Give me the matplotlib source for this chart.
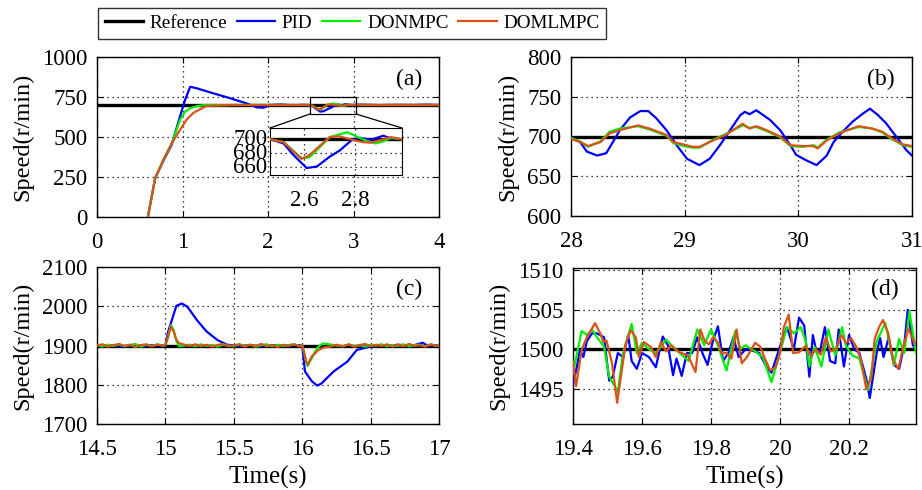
import matplotlib
matplotlib.use("Agg")
import matplotlib.pyplot as plt
from matplotlib.lines import Line2D
from matplotlib.patches import Rectangle

plt.rcParams['font.family'] = ['Liberation Serif', 'DejaVu Serif']

# ---------------- data ----------------
series_names = ['Reference', 'PID', 'DONMPC', 'DOMLMPC']
series_colors = ['#000000', '#0000FF', '#00EE00', '#D95319']

# (a) start-up, 0-4 s, reference 700
ref_a = 700
ta_pid = [0.595, 0.68, 0.775, 0.874, 0.97, 1.03, 1.09, 1.17, 1.36, 1.56, 1.75, 1.87, 1.95, 2.02, 2.15, 2.3, 2.40,
          2.467, 2.52, 2.56, 2.61, 2.65, 2.70, 2.74, 2.79, 2.82, 2.86, 2.91, 2.94, 2.98, 3.1, 3.3, 3.5, 3.7, 3.85, 4.0]
va_pid = [0, 242, 350, 452, 627, 731, 814, 804, 773, 742, 710, 685, 683, 700, 703, 698, 701,
          700, 694, 677, 659, 661, 675, 684, 700, 702, 699, 705, 701, 700, 702, 699, 701, 700, 702, 700]
ta_don = [0.595, 0.68, 0.775, 0.874, 0.97, 1.03, 1.09, 1.17, 1.28, 1.5, 1.8, 2.1, 2.3, 2.467, 2.52, 2.56, 2.59,
          2.62, 2.66, 2.70, 2.73, 2.77, 2.81, 2.85, 2.88, 2.91, 2.94, 2.98, 3.2, 3.5, 3.8, 4.0]
va_don = [0, 242, 356, 460, 606, 658, 680, 694, 700, 699, 701, 700, 700, 700, 696, 683, 673,
          674, 688, 703, 706, 710, 703, 697, 694, 697, 702, 700, 700, 700, 700, 700]
ta_dom = [0.595, 0.68, 0.775, 0.874, 0.97, 1.05, 1.13, 1.23, 1.28, 1.56, 1.8, 2.1, 2.3, 2.467, 2.52, 2.56, 2.59,
          2.62, 2.66, 2.70, 2.74, 2.79, 2.83, 2.86, 2.91, 2.94, 2.98, 3.2, 3.5, 3.8, 4.0]
va_dom = [0, 242, 356, 460, 544, 610, 652, 680, 694, 700, 699, 700, 700, 700, 696, 682, 672,
          677, 690, 703, 704, 699, 696, 695, 700, 703, 700, 700, 700, 700, 700]

# (b) steady state with periodic disturbance, 28-31 s, reference 700
ref_b = 700
tb_pid = [28.0, 28.08, 28.14, 28.23, 28.31, 28.36, 28.43, 28.52, 28.61, 28.68, 28.75, 28.84, 28.93, 29.02, 29.13,
          29.22, 29.31, 29.40, 29.49, 29.53, 29.57, 29.63, 29.68, 29.75, 29.84, 29.93, 29.98, 30.07, 30.16, 30.25,
          30.31, 30.39, 30.48, 30.57, 30.63, 30.70, 30.77, 30.86, 30.95, 31.0]
vb_pid = [699, 693, 681, 676, 679, 691, 708, 724, 732, 732, 723, 708, 689, 672, 664,
          672, 689, 708, 727, 731, 728, 733, 728, 721, 708, 689, 677, 670, 664, 676,
          693, 706, 719, 729, 735, 727, 717, 700, 683, 676]
tb_don = [28.0, 28.08, 28.15, 28.26, 28.34, 28.43, 28.59, 28.69, 28.84, 28.90, 28.99, 29.07, 29.13, 29.25, 29.36,
          29.51, 29.57, 29.63, 29.72, 29.84, 29.93, 30.04, 30.13, 30.17, 30.25, 30.36, 30.53, 30.65, 30.74, 30.83,
          30.92, 31.0]
vb_don = [698, 694, 687, 694, 706, 710, 713, 709, 701, 692, 688, 686, 686, 696, 703,
          714, 711, 712, 707, 699, 688, 687, 689, 686, 696, 705, 712, 710, 705, 696,
          689, 687]
tb_dom = [28.0, 28.08, 28.15, 28.26, 28.34, 28.43, 28.59, 28.69, 28.84, 28.90, 28.99, 29.07, 29.13, 29.25, 29.36,
          29.51, 29.57, 29.63, 29.72, 29.84, 29.93, 30.04, 30.13, 30.17, 30.25, 30.36, 30.53, 30.65, 30.74, 30.83,
          30.92, 31.0]
vb_dom = [697, 693, 688, 693, 704, 708, 714, 710, 702, 693, 690, 687, 687, 695, 702,
          716, 710, 713, 708, 700, 689, 688, 688, 685, 695, 704, 713, 710, 706, 697,
          690, 688]

# (c) load disturbance, 14.5-17 s, reference 1900
ref_c = 1900
tc_pid = [14.5, 14.55, 14.6, 14.65, 14.7, 14.75, 14.8, 14.85, 14.9, 14.95, 15.0, 15.02, 15.04, 15.08, 15.12, 15.16,
          15.23, 15.30, 15.38, 15.45, 15.5, 15.56, 15.62, 15.68, 15.74, 15.8, 15.86, 15.92, 15.97, 16.0, 16.02,
          16.07, 16.11, 16.14, 16.23, 16.33, 16.40, 16.45, 16.52, 16.58, 16.64, 16.7, 16.76, 16.82, 16.88, 16.92,
          16.96, 17.0]
vc_pid = [1900, 1899, 1901, 1900, 1898, 1901, 1900, 1899, 1901, 1900, 1900, 1935, 1957, 2001, 2007, 1999,
          1965, 1936, 1914, 1902, 1900, 1899, 1901, 1898, 1900, 1901, 1899, 1900, 1901, 1900, 1834,
          1809, 1798, 1803, 1834, 1859, 1889, 1893, 1900, 1901, 1899, 1902, 1900, 1901, 1907, 1899,
          1901, 1900]
tc_don = [14.5, 14.54, 14.58, 14.62, 14.66, 14.70, 14.74, 14.78, 14.82, 14.86, 14.90, 14.94, 14.98, 15.0, 15.02,
          15.04, 15.06, 15.08, 15.10, 15.14, 15.18, 15.22, 15.26, 15.30, 15.34, 15.38, 15.42, 15.46, 15.50, 15.54,
          15.58, 15.62, 15.66, 15.70, 15.74, 15.78, 15.82, 15.86, 15.90, 15.94, 15.98, 16.0, 16.01, 16.03, 16.04,
          16.07, 16.11, 16.15, 16.20, 16.25, 16.30, 16.34, 16.38, 16.42, 16.46, 16.50, 16.54, 16.58, 16.62,
          16.66, 16.70, 16.74, 16.78, 16.82, 16.86, 16.90, 16.94, 16.98, 17.0]
vc_don = [1901, 1898, 1902, 1899, 1903, 1898, 1901, 1904, 1897, 1902, 1899, 1903, 1900, 1901, 1920,
          1952, 1940, 1912, 1898, 1900, 1902, 1898, 1903, 1899, 1901, 1897, 1902, 1900, 1898, 1903,
          1899, 1902, 1897, 1901, 1903, 1898, 1902, 1899, 1901, 1903, 1899, 1900, 1888, 1855, 1848,
          1868, 1894, 1905, 1903, 1900, 1898, 1903, 1899, 1901, 1897, 1902, 1900, 1903, 1898,
          1901, 1899, 1903, 1898, 1901, 1902, 1898, 1903, 1899, 1900]
tc_dom = [14.5, 14.54, 14.58, 14.62, 14.66, 14.70, 14.74, 14.78, 14.82, 14.86, 14.90, 14.94, 14.98, 15.0, 15.02,
          15.04, 15.06, 15.08, 15.10, 15.14, 15.18, 15.22, 15.26, 15.30, 15.34, 15.38, 15.42, 15.46, 15.50, 15.54,
          15.58, 15.62, 15.66, 15.70, 15.74, 15.78, 15.82, 15.86, 15.90, 15.94, 15.98, 16.0, 16.01, 16.03, 16.04,
          16.07, 16.12, 16.16, 16.20, 16.25, 16.30, 16.34, 16.38, 16.42, 16.46, 16.50, 16.54, 16.58, 16.62,
          16.66, 16.70, 16.74, 16.78, 16.82, 16.86, 16.90, 16.94, 16.98, 17.0]
vc_dom = [1900, 1903, 1897, 1901, 1904, 1899, 1902, 1896, 1901, 1903, 1898, 1902, 1900, 1901, 1925,
          1948, 1936, 1915, 1906, 1902, 1899, 1903, 1898, 1902, 1897, 1901, 1904, 1898, 1900, 1903,
          1897, 1902, 1899, 1904, 1898, 1901, 1896, 1902, 1899, 1903, 1898, 1900, 1889, 1858, 1851,
          1872, 1889, 1895, 1897, 1902, 1898, 1903, 1897, 1901, 1904, 1898, 1902, 1899, 1903,
          1897, 1902, 1898, 1904, 1899, 1901, 1897, 1903, 1899, 1901]

# (d) steady state zoom, 19.4-20.39 s, reference 1500
ref_d = 1500
td_pid = [19.40, 19.41, 19.42, 19.43, 19.44, 19.455, 19.47, 19.49, 19.505, 19.515, 19.53, 19.545, 19.56, 19.57,
          19.585, 19.60, 19.62, 19.64, 19.66, 19.675, 19.69, 19.70, 19.715, 19.73, 19.745, 19.76, 19.775, 19.79,
          19.805, 19.82, 19.835, 19.85, 19.865, 19.88, 19.90, 19.92, 19.94, 19.96, 19.975, 19.99, 20.005, 20.02,
          20.04, 20.055, 20.07, 20.085, 20.095, 20.105, 20.115, 20.13, 20.145, 20.16, 20.17, 20.185, 20.20,
          20.215, 20.23, 20.25, 20.26, 20.28, 20.29, 20.30, 20.315, 20.33, 20.345, 20.36, 20.37, 20.385, 20.394]
vd_pid = [1495.5, 1497.5, 1499.9, 1499.0, 1501.0, 1502.0, 1502.0, 1501.5, 1496.0, 1496.5, 1499.5, 1499.0, 1501.8,
          1498.5, 1497.5, 1499.5, 1499.0, 1497.7, 1501.6, 1500.5, 1496.7, 1498.8, 1496.6, 1499.5, 1499.5, 1501.5,
          1499.5, 1498.0, 1501.0, 1502.9, 1498.5, 1499.5, 1501.5, 1499.0, 1500.0, 1499.8, 1499.5, 1497.8, 1497.0,
          1499.0, 1501.0, 1502.8, 1500.0, 1504.0, 1503.0, 1496.5, 1501.8, 1499.8, 1499.5, 1502.8, 1498.5, 1498.2,
          1502.5, 1497.8, 1501.8, 1500.0, 1499.5, 1496.2, 1493.8, 1499.5, 1501.4, 1499.0, 1501.5, 1498.0, 1497.5,
          1500.5, 1505.0, 1500.5, 1500.0]
td_don = [19.40, 19.425, 19.44, 19.455, 19.47, 19.49, 19.505, 19.53, 19.545, 19.57, 19.585, 19.60, 19.62, 19.64,
          19.67, 19.69, 19.71, 19.735, 19.76, 19.78, 19.80, 19.82, 19.845, 19.87, 19.885, 19.90, 19.925, 19.95,
          19.975, 20.0, 20.02, 20.04, 20.06, 20.075, 20.085, 20.10, 20.12, 20.14, 20.16, 20.18, 20.19, 20.21,
          20.23, 20.255, 20.28, 20.305, 20.33, 20.345, 20.36, 20.375, 20.394]
vd_don = [1497.0, 1502.3, 1501.8, 1502.5, 1501.5, 1500.3, 1496.5, 1494.6, 1499.5, 1503.2, 1499.5, 1500.8, 1500.0,
          1499.5, 1501.2, 1500.3, 1499.5, 1498.5, 1502.5, 1500.5, 1502.5, 1500.5, 1497.3, 1502.3, 1500.0, 1500.5,
          1499.8, 1499.0, 1495.8, 1499.6, 1502.8, 1502.0, 1502.8, 1501.0, 1497.8, 1500.3, 1497.8, 1502.5, 1499.2,
          1502.8, 1500.5, 1499.2, 1498.8, 1494.8, 1501.0, 1503.3, 1498.0, 1501.3, 1499.5, 1504.8, 1499.5]
td_dom = [19.40, 19.409, 19.425, 19.44, 19.464, 19.479, 19.488, 19.497, 19.513, 19.528, 19.543, 19.552, 19.567,
          19.582, 19.591, 19.605, 19.625, 19.64, 19.655, 19.67, 19.684, 19.704, 19.733, 19.755, 19.769, 19.781,
          19.794, 19.806, 19.821, 19.83, 19.845, 19.859, 19.874, 19.889, 19.904, 19.928, 19.943, 19.958, 19.972,
          19.987, 20.0, 20.011, 20.025, 20.038, 20.055, 20.074, 20.089, 20.104, 20.118, 20.133, 20.147, 20.162,
          20.177, 20.191, 20.206, 20.221, 20.235, 20.25, 20.265, 20.274, 20.287, 20.298, 20.313, 20.328, 20.343,
          20.357, 20.372, 20.387, 20.394]
vd_dom = [1498.4, 1495.3, 1499.9, 1501.5, 1503.3, 1502.0, 1500.9, 1501.1, 1498.2, 1493.2, 1497.8, 1500.6, 1502.4,
          1501.5, 1499.0, 1500.9, 1500.3, 1499.0, 1500.9, 1499.7, 1500.5, 1499.7, 1499.2, 1497.1, 1502.5, 1501.1,
          1500.6, 1501.5, 1500.8, 1499.5, 1499.5, 1498.8, 1502.5, 1498.2, 1499.0, 1500.8, 1500.3, 1498.6, 1497.3,
          1497.7, 1499.5, 1502.8, 1504.4, 1499.5, 1499.6, 1500.4, 1499.1, 1500.0, 1499.3, 1501.5, 1499.7, 1500.0,
          1501.8, 1500.8, 1501.4, 1500.3, 1498.6, 1494.9, 1496.5, 1501.3, 1502.8, 1503.7, 1502.1, 1498.6, 1497.5,
          1500.3, 1502.6, 1501.0, 1500.6]

# ---------------- figure ----------------
W, H = 922, 490
fig = plt.figure(figsize=(W / 100, H / 100), dpi=100)


def px_axes(l, t, r, b):
    return fig.add_axes([l / W, 1 - b / H, (r - l) / W, (b - t) / H])


axA = px_axes(97, 57, 439, 217)
axB = px_axes(571, 57, 912, 216)
axC = px_axes(97, 267, 439, 424)
axD = px_axes(573, 268, 916, 424)

LW_REF = 2.4
LW = 1.6
TICK_FS = 16.5
YLAB_FS = 17.5
XLAB_FS = 18
PANEL_FS = 17


def draw(ax, xlim, ref, data):
    ax.plot(xlim, [ref, ref], color=series_colors[0], lw=LW_REF, zorder=2)
    for (t, v), c in zip(data, series_colors[1:]):
        ax.plot(t, v, color=c, lw=LW, zorder=3)
    ax.set_xlim(*xlim)
    ax.grid(True, linestyle=(0, (1, 3)), color='black', linewidth=0.9)
    ax.tick_params(direction='in', labelsize=TICK_FS, length=4, top=True, right=True, width=0.8)
    ax.tick_params(axis='x', pad=11)
    ax.tick_params(axis='y', pad=7)
    for s in ax.spines.values():
        s.set_linewidth(1.0)
    ax.set_ylabel('Speed(r/min)', fontsize=YLAB_FS, labelpad=6)


draw(axA, (0, 4), ref_a, [(ta_pid, va_pid), (ta_don, va_don), (ta_dom, va_dom)])
axA.set_ylim(0, 1000)
axA.set_yticks([0, 250, 500, 750, 1000])
axA.set_xticks([0, 1, 2, 3, 4])

draw(axB, (28, 31), ref_b, [(tb_pid, vb_pid), (tb_don, vb_don), (tb_dom, vb_dom)])
axB.set_ylim(600, 800)
axB.set_yticks([600, 650, 700, 750, 800])
axB.set_xticks([28, 29, 30, 31])

draw(axC, (14.5, 17), ref_c, [(tc_pid, vc_pid), (tc_don, vc_don), (tc_dom, vc_dom)])
axC.set_ylim(1700, 2100)
axC.set_yticks([1700, 1800, 1900, 2000, 2100])
axC.set_xticks([14.5, 15, 15.5, 16, 16.5, 17])
axC.set_xticklabels(['14.5', '15', '15.5', '16', '16.5', '17'])
axC.set_xlabel('Time(s)', fontsize=XLAB_FS, labelpad=4)

draw(axD, (19.4, 20.394), ref_d, [(td_pid, vd_pid), (td_don, vd_don), (td_dom, vd_dom)])
axD.set_ylim(1490.5, 1510.3)
axD.set_yticks([1495, 1500, 1505, 1510])
axD.set_xticks([19.4, 19.6, 19.8, 20.0, 20.2])
axD.set_xticklabels(['19.4', '19.6', '19.8', '20', '20.2'])
axD.set_xlabel('Time(s)', fontsize=XLAB_FS, labelpad=4)

for ax, lab in zip([axA, axB, axC, axD], ['(a)', '(b)', '(c)', '(d)']):
    ax.text(0.95, 0.86, lab, transform=ax.transAxes, ha='right', va='center', fontsize=PANEL_FS)

# inset of (a)
rx0, rx1, ry0, ry1 = 2.49, 3.03, 645, 750
axA.add_patch(Rectangle((rx0, ry0), rx1 - rx0, ry1 - ry0, fill=False, edgecolor='black', lw=0.9, zorder=5))
axI = px_axes(270, 128, 402, 175)
axI.plot([2.4, 3.1], [ref_a, ref_a], color=series_colors[0], lw=LW_REF, zorder=2)
for (t, v), c in zip([(ta_pid, va_pid), (ta_don, va_don), (ta_dom, va_dom)], series_colors[1:]):
    axI.plot(t, v, color=c, lw=LW, zorder=3)
axI.set_xlim(2.467, 2.983)
axI.set_ylim(649, 716)
axI.set_xticks([2.6, 2.8])
axI.set_yticks([660, 680, 700])
axI.grid(True, linestyle=(0, (1, 3)), color='black', linewidth=0.9)
axI.tick_params(direction='in', labelsize=TICK_FS, length=0, pad=2)
axI.tick_params(axis='x', pad=11)
for lab in axI.get_yticklabels():
    lab.set_verticalalignment('center')
# connector lines (figure pixel coords, y from top)
for (x0, y0), (x1, y1) in [((310, 114), (270, 128)), ((356, 114), (402, 128))]:
    fig.add_artist(Line2D([x0 / W, x1 / W], [1 - y0 / H, 1 - y1 / H], color='black', lw=0.9))

# legend
handles = [Line2D([], [], color=c, lw=(LW_REF if i == 0 else LW)) for i, c in enumerate(series_colors)]
leg = fig.legend(handles, series_names, loc='center', bbox_to_anchor=(352 / W, 1 - 23.5 / H), ncol=4,
                 fontsize=13.8, frameon=True, fancybox=False, edgecolor='black', handlelength=2.0,
                 columnspacing=0.5, handletextpad=0.35, borderpad=0.35)
leg.get_frame().set_linewidth(1.0)

fig.savefig('out.png', dpi=100)
